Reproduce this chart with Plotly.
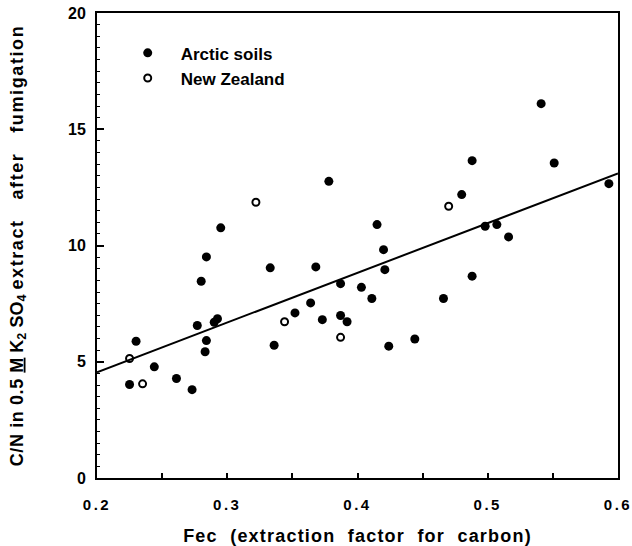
import plotly.graph_objects as go

# Arctic soils (filled circles)
arctic_fec = [0.225, 0.230, 0.244, 0.261, 0.273, 0.277, 0.280, 0.283, 0.284, 0.284,
              0.290, 0.2925, 0.295, 0.333, 0.336, 0.352, 0.364, 0.368, 0.373, 0.378,
              0.387, 0.387, 0.392, 0.403, 0.411, 0.415, 0.420, 0.421, 0.424, 0.444,
              0.466, 0.480, 0.488, 0.488, 0.498, 0.507, 0.516, 0.541, 0.551, 0.593]
arctic_cn = [4.02, 5.88, 4.78, 4.28, 3.80, 6.56, 8.46, 5.43, 5.91, 9.51,
             6.70, 6.85, 10.76, 9.04, 5.71, 7.10, 7.53, 9.08, 6.81, 12.76,
             8.36, 6.99, 6.72, 8.20, 7.72, 10.90, 9.82, 8.96, 5.67, 5.98,
             7.72, 12.19, 13.65, 8.68, 10.83, 10.90, 10.37, 16.10, 13.55, 12.66]

# New Zealand soils (open circles)
nz_fec = [0.225, 0.235, 0.322, 0.344, 0.387, 0.470]
nz_cn = [5.14, 4.05, 11.86, 6.72, 6.05, 11.69]

# Regression line end points
fit_fec = [0.2, 0.6]
fit_cn = [4.55, 13.1]

# Tick labels
x_ticks = [0.2, 0.3, 0.4, 0.5, 0.6]
x_ticktext = ["0.2", "0.3", "0.4", "0.5", "0.6"]
y_ticks = [0, 5, 10, 15, 20]
y_ticktext = ["0", "5", "10", "15", "20"]

FONT = "Liberation Sans"


def spaced(text, px):
    return f'<span style="letter-spacing:{px}px">{text}</span>'


fig = go.Figure()
fig.add_trace(go.Scatter(
    x=fit_fec, y=fit_cn, mode="lines", showlegend=False,
    line=dict(color="black", width=2), hoverinfo="skip"))
fig.add_trace(go.Scatter(
    x=arctic_fec, y=arctic_cn, mode="markers", name="Arctic soils",
    marker=dict(symbol="circle", size=9, color="black")))
fig.add_trace(go.Scatter(
    x=nz_fec, y=nz_cn, mode="markers", name="New Zealand",
    marker=dict(symbol="circle-open", size=7, color="black", line=dict(width=2))))

nb = "\u00a0"
xtitle = spaced(f"Fec{nb}{nb}(extraction{nb}{nb}factor{nb}{nb}for{nb}{nb}carbon)", 1.2)
ytitle = (spaced("C/N in 0.5 ", 0.6) + "<u>M</u>" + f"{nb}K<sub>2</sub>{nb}SO<sub>4</sub>{nb}"
          + spaced(f"extract{nb}{nb}{nb}after{nb}{nb}{nb}fumigation", 1.6))

fig.update_layout(
    width=632, height=546,
    margin=dict(l=97, r=14, t=13, b=68),
    paper_bgcolor="white", plot_bgcolor="white",
    font=dict(family=FONT, color="black", size=15, weight="bold"),
    showlegend=True,
    legend=dict(x=0.034, y=0.952, xanchor="left", yanchor="top",
                bgcolor="rgba(0,0,0,0)", borderwidth=0,
                font=dict(family=FONT, size=17, weight="bold", color="black"),
                itemwidth=56),
    xaxis=dict(
        range=[0.2, 0.6], showgrid=False, zeroline=False, automargin=False,
        showline=True, linecolor="black", linewidth=2, mirror=True,
        ticks="inside", ticklen=5, tickwidth=1.5, tickcolor="black",
        tickvals=x_ticks, ticktext=[spaced(t, 2.5) for t in x_ticktext],
        tickfont=dict(family=FONT, size=15, weight="bold"),
        ticklabelstandoff=12, ticklabeloverflow="allow",
        minor=dict(dtick=0.05, ticks="inside", ticklen=5, tickcolor="black", tickwidth=1.5),
        title=dict(text=xtitle, standoff=18,
                   font=dict(family=FONT, size=18, weight="bold")),
    ),
    yaxis=dict(
        range=[0, 20], showgrid=False, zeroline=False, automargin=False,
        showline=True, linecolor="black", linewidth=2, mirror=True,
        ticks="inside", ticklen=7, tickwidth=1.5, tickcolor="black",
        tickvals=y_ticks, ticktext=y_ticktext,
        tickfont=dict(family=FONT, size=16, weight="bold"),
        ticklabelstandoff=6, ticklabeloverflow="allow",
        minor=dict(dtick=0.5, ticks="inside", ticklen=3, tickcolor="black", tickwidth=1),
        title=dict(text=ytitle, standoff=40,
                   font=dict(family=FONT, size=18, weight="bold")),
    ),
)

fig.write_html("out.html")
